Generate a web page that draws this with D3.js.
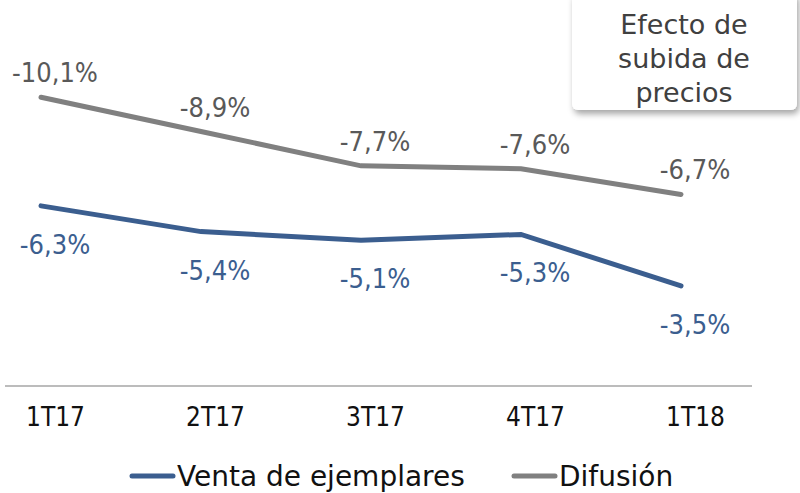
<!DOCTYPE html>
<html>
<head>
<meta charset="utf-8">
<script src="https://cdn.jsdelivr.net/npm/d3@7"></script>
<style>
  body { margin: 0; background: #fff; }
  text { font-family: "DejaVu Sans", sans-serif; }
  .cond { font-family: "DejaVu Sans Condensed", "DejaVu Sans", sans-serif; font-stretch: condensed; }
</style>
</head>
<body>
<div class="chart"></div>
<script>
const categories = ["1T17", "2T17", "3T17", "4T17", "1T18"];
const ventaValues = [-6.3, -5.4, -5.1, -5.3, -3.5];
const difusionValues = [-10.1, -8.9, -7.7, -7.6, -6.7];
const seriesNames = ["Venta de ejemplares", "Difusión"];
const noteLines = ["Efecto de", "subida de", "precios"];

const width = 800;
const height = 493;
const blue = "#3b5e8f";
const grey = "#808080";

const svg = d3.select(".chart")
              .append("svg")
              .attr("width", width)
              .attr("height", height);

const defs = svg.append("defs");
const shadow = defs.append("filter").attr("id", "shadow")
  .attr("x", "-10%").attr("y", "-10%").attr("width", "130%").attr("height", "140%");
shadow.append("feDropShadow")
  .attr("dx", 2).attr("dy", 4).attr("stdDeviation", 3)
  .attr("flood-color", "#000").attr("flood-opacity", 0.35);

const x = d3.scalePoint().domain(categories).range([41, 681]);
const y = d3.scaleLinear().domain([-12.8, 0]).range([20, 386]);

// axis line + category labels (labels sit a bit right of the points)
const xAxis = svg.append("g")
  .attr("transform", `translate(0,${y(0)})`)
  .call(d3.axisBottom(x).tickSize(0).tickPadding(22));
xAxis.select(".domain").attr("d", "M5,0H752").attr("stroke", "#a6a6a6").attr("stroke-width", 1.5);
xAxis.selectAll("text")
  .attr("class", "cond")
  .attr("dx", 14)
  .style("font-size", "26px")
  .attr("fill", "#111")
  .attr("font-family", null);

const line = d3.line()
  .x((d, i) => x(categories[i]))
  .y(d => y(d));

svg.append("path")
  .datum(difusionValues)
  .attr("d", line)
  .attr("fill", "none")
  .attr("stroke", grey)
  .attr("stroke-width", 5)
  .attr("stroke-linecap", "round");

svg.append("path")
  .datum(ventaValues)
  .attr("d", line)
  .attr("fill", "none")
  .attr("stroke", blue)
  .attr("stroke-width", 5)
  .attr("stroke-linecap", "round");

const fmt = v => v.toFixed(1).replace(".", ",") + "%";

svg.selectAll(".lab-dif")
  .data(difusionValues)
  .enter()
  .append("text")
  .attr("class", "lab-dif cond")
  .attr("x", (d, i) => x(categories[i]) + 14)
  .attr("y", d => y(d) - 15)
  .attr("text-anchor", "middle")
  .attr("fill", "#595959")
  .style("font-size", "27px")
  .text(fmt);

svg.selectAll(".lab-venta")
  .data(ventaValues)
  .enter()
  .append("text")
  .attr("class", "lab-venta cond")
  .attr("x", (d, i) => x(categories[i]) + 14)
  .attr("y", d => y(d) + 48)
  .attr("text-anchor", "middle")
  .attr("fill", blue)
  .style("font-size", "27px")
  .text(fmt);

// note box
svg.append("rect")
  .attr("x", 572).attr("y", -8)
  .attr("width", 225).attr("height", 118)
  .attr("rx", 6)
  .attr("fill", "#fff")
  .attr("filter", "url(#shadow)");

svg.append("g").selectAll("text")
  .data(noteLines)
  .enter()
  .append("text")
  .attr("x", 684)
  .attr("y", (d, i) => 34 + i * 34)
  .attr("text-anchor", "middle")
  .attr("fill", "#404040")
  .style("font-size", "27px")
  .text(d => d);

// legend
const legend = [
  { name: seriesNames[0], color: blue, x: 130 },
  { name: seriesNames[1], color: grey, x: 512 }
];
const lg = svg.append("g").selectAll("g")
  .data(legend)
  .enter()
  .append("g")
  .attr("transform", d => `translate(${d.x},476)`);
lg.append("line")
  .attr("x1", 2).attr("x2", 43)
  .attr("stroke", d => d.color)
  .attr("stroke-width", 5)
  .attr("stroke-linecap", "round");
lg.append("text")
  .attr("x", 47)
  .attr("y", 10)
  .attr("fill", "#111")
  .style("font-size", "28px")
  .text(d => d.name);
</script>
</body>
</html>
